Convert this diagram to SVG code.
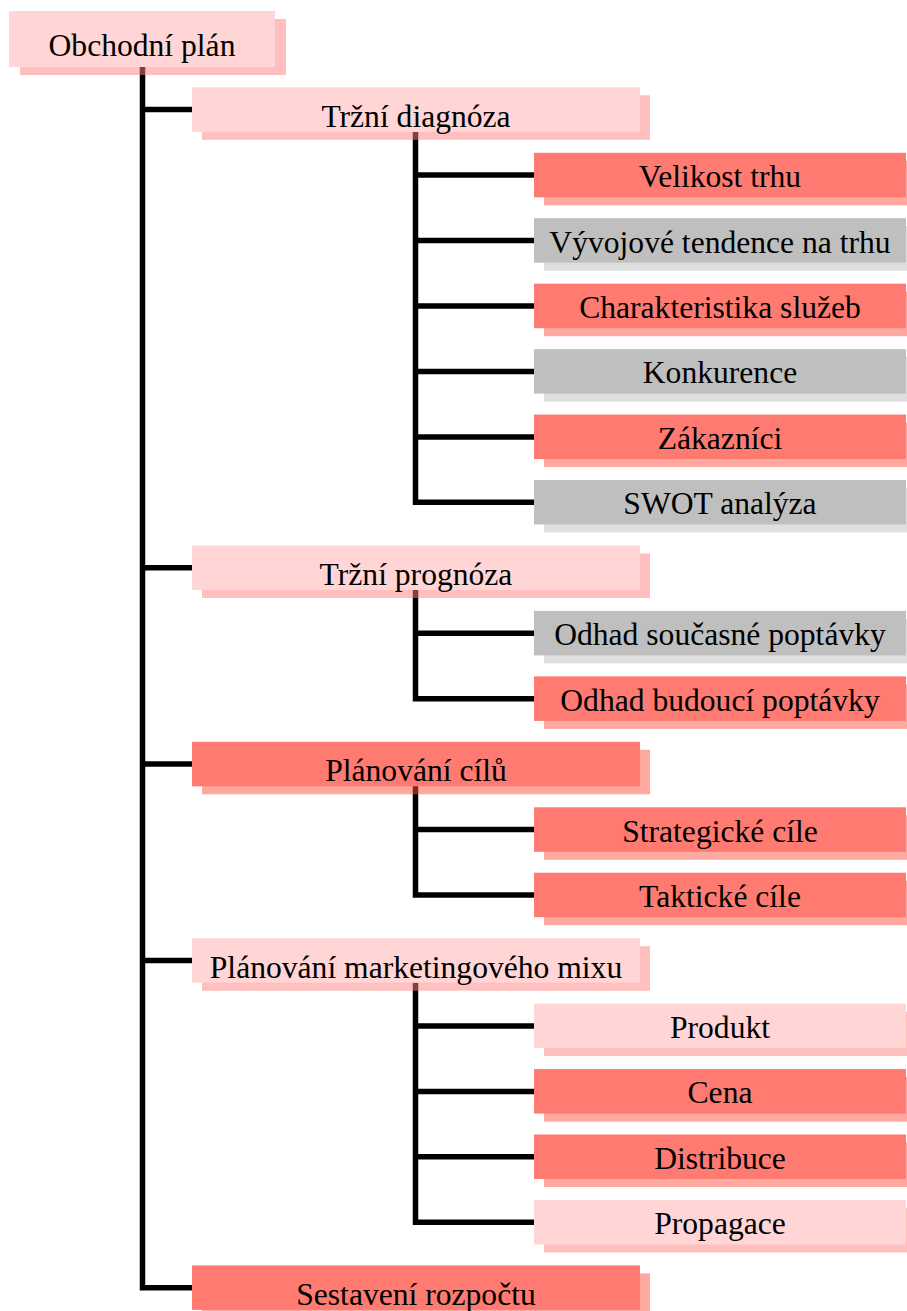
<svg xmlns="http://www.w3.org/2000/svg" width="907" height="1311" viewBox="0 0 907 1311">
<style>
text{font-family:"Liberation Serif","Times New Roman",serif;font-size:31.6px;fill:#000;text-anchor:middle}
.pk{fill:#FFD5D5}.pks{fill:#FF8080;opacity:.5}
.sa{fill:#FF7A70}.sas{fill:#FF5141;opacity:.5}
.gr{fill:#BFBFBF}.grs{fill:#BFBFBF;opacity:.5}
.ln{stroke:#000;stroke-width:5.5;fill:none;stroke-linejoin:miter}
</style>
<g id="connectors" class="ln">
<path d="M142.5 67 V1287.7 H192"/>
<path d="M142.5 109.6 H192"/>
<path d="M142.5 567.8 H192"/>
<path d="M142.5 764.1 H192"/>
<path d="M142.5 960.5 H192"/>
<path d="M415.5 132 V502.3 H534"/>
<path d="M415.5 175.1 H534"/>
<path d="M415.5 240.5 H534"/>
<path d="M415.5 306 H534"/>
<path d="M415.5 371.4 H534"/>
<path d="M415.5 436.9 H534"/>
<path d="M415.5 590 V698.7 H534"/>
<path d="M415.5 633.2 H534"/>
<path d="M415.5 786 V895 H534"/>
<path d="M415.5 829.6 H534"/>
<path d="M415.5 982.7 V1222.3 H534"/>
<path d="M415.5 1025.9 H534"/>
<path d="M415.5 1091.4 H534"/>
<path d="M415.5 1156.8 H534"/>
</g>
<g id="n-root"><rect class="pks" x="20" y="19" width="266" height="56"/><rect class="pk" x="9" y="11" width="266" height="56"/><text x="142" y="55.5">Obchodní plán</text></g>
<g id="n-diag"><rect class="pks" x="202" y="95.3" width="448" height="44.5"/><rect class="pk" x="192" y="87.3" width="448" height="44.5"/><text x="416" y="126.7">Tržní diagnóza</text></g>
<g id="n-vel"><rect class="sas" x="544" y="160.8" width="372" height="44.5"/><rect class="sa" x="534" y="152.8" width="372" height="44.5"/><text x="720" y="187.1">Velikost trhu</text></g>
<g id="n-vyv"><rect class="grs" x="544" y="226.2" width="372" height="44.5"/><rect class="gr" x="534" y="218.2" width="372" height="44.5"/><text x="720" y="252.5">Vývojové tendence na trhu</text></g>
<g id="n-char"><rect class="sas" x="544" y="291.7" width="372" height="44.5"/><rect class="sa" x="534" y="283.7" width="372" height="44.5"/><text x="720" y="318">Charakteristika služeb</text></g>
<g id="n-konk"><rect class="grs" x="544" y="357.1" width="372" height="44.5"/><rect class="gr" x="534" y="349.1" width="372" height="44.5"/><text x="720" y="383.4">Konkurence</text></g>
<g id="n-zak"><rect class="sas" x="544" y="422.6" width="372" height="44.5"/><rect class="sa" x="534" y="414.6" width="372" height="44.5"/><text x="720" y="448.9">Zákazníci</text></g>
<g id="n-swot"><rect class="grs" x="544" y="488" width="372" height="44.5"/><rect class="gr" x="534" y="480" width="372" height="44.5"/><text x="720" y="514.3">SWOT analýza</text></g>
<g id="n-prog"><rect class="pks" x="202" y="553.5" width="448" height="44.5"/><rect class="pk" x="192" y="545.5" width="448" height="44.5"/><text x="416" y="584.9">Tržní prognóza</text></g>
<g id="n-odsou"><rect class="grs" x="544" y="618.9" width="372" height="44.5"/><rect class="gr" x="534" y="610.9" width="372" height="44.5"/><text x="720" y="645.2">Odhad současné poptávky</text></g>
<g id="n-odbud"><rect class="sas" x="544" y="684.4" width="372" height="44.5"/><rect class="sa" x="534" y="676.4" width="372" height="44.5"/><text x="720" y="710.7">Odhad budoucí poptávky</text></g>
<g id="n-cile"><rect class="sas" x="202" y="749.8" width="448" height="44.5"/><rect class="sa" x="192" y="741.8" width="448" height="44.5"/><text x="416" y="781.2">Plánování cílů</text></g>
<g id="n-strat"><rect class="sas" x="544" y="815.3" width="372" height="44.5"/><rect class="sa" x="534" y="807.3" width="372" height="44.5"/><text x="720" y="841.6">Strategické cíle</text></g>
<g id="n-takt"><rect class="sas" x="544" y="880.7" width="372" height="44.5"/><rect class="sa" x="534" y="872.7" width="372" height="44.5"/><text x="720" y="907">Taktické cíle</text></g>
<g id="n-mix"><rect class="pks" x="202" y="946.2" width="448" height="44.5"/><rect class="pk" x="192" y="938.2" width="448" height="44.5"/><text x="416" y="977.6">Plánování marketingového mixu</text></g>
<g id="n-prod"><rect class="pks" x="544" y="1011.6" width="372" height="44.5"/><rect class="pk" x="534" y="1003.6" width="372" height="44.5"/><text x="720" y="1037.9">Produkt</text></g>
<g id="n-cena"><rect class="sas" x="544" y="1077.1" width="372" height="44.5"/><rect class="sa" x="534" y="1069.1" width="372" height="44.5"/><text x="720" y="1103.4">Cena</text></g>
<g id="n-dist"><rect class="sas" x="544" y="1142.5" width="372" height="44.5"/><rect class="sa" x="534" y="1134.5" width="372" height="44.5"/><text x="720" y="1168.8">Distribuce</text></g>
<g id="n-prop"><rect class="pks" x="544" y="1208" width="372" height="44.5"/><rect class="pk" x="534" y="1200" width="372" height="44.5"/><text x="720" y="1234.3">Propagace</text></g>
<g id="n-rozp"><rect class="sas" x="202" y="1273.4" width="448" height="44.5"/><rect class="sa" x="192" y="1265.4" width="448" height="44.5"/><text x="416" y="1304.8">Sestavení rozpočtu</text></g>
</svg>
